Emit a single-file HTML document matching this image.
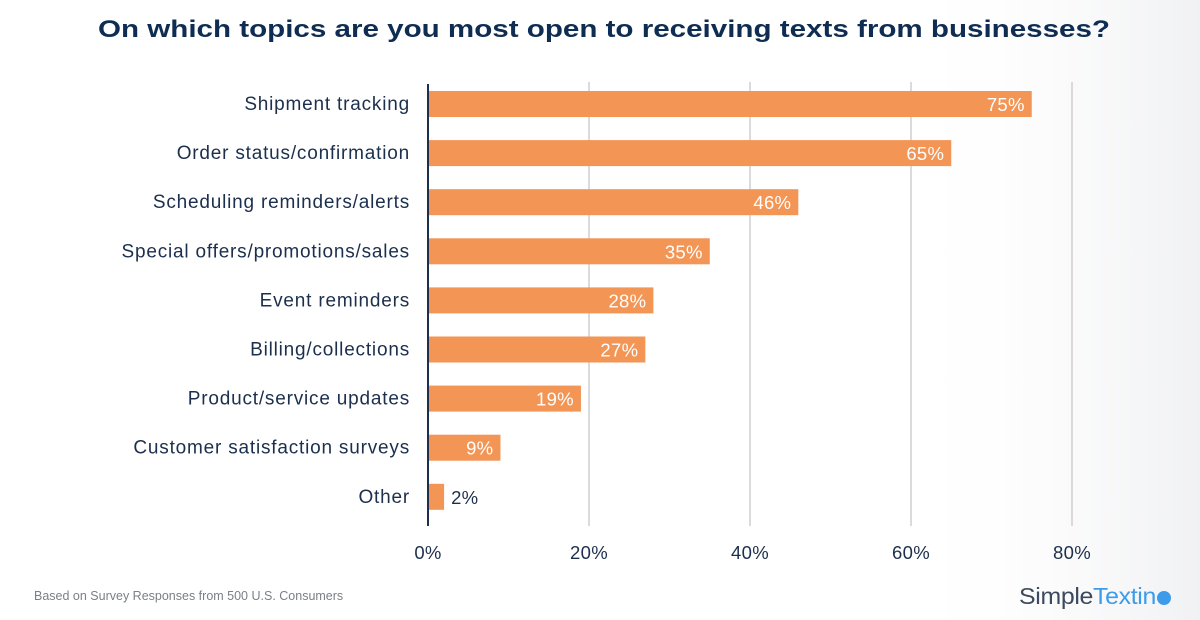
<!DOCTYPE html>
<html><head><meta charset="utf-8"><style>
html,body{margin:0;padding:0;width:1200px;height:620px;overflow:hidden;background:#fff;}
svg text{font-family:"Liberation Sans",sans-serif;}
</style></head><body>
<svg width="1200" height="620" viewBox="0 0 1200 620">
<defs><linearGradient id="rg" x1="0" x2="1"><stop offset="0" stop-color="#fff" stop-opacity="0"/><stop offset="1" stop-color="#eaebee"/></linearGradient></defs>
<rect x="900" y="0" width="300" height="620" fill="url(#rg)" opacity="0.7"/>
<text x="604" y="37" text-anchor="middle" font-size="24" font-weight="bold" fill="#0f2d52" textLength="1012" lengthAdjust="spacingAndGlyphs">On which topics are you most open to receiving texts from businesses?</text>
<g id="grid"></g><g id="bars"></g><g id="xt"></g>
<text x="34" y="600" font-size="12.5" fill="#7a7f88">Based on Survey Responses from 500 U.S. Consumers</text>
<g>
<text x="1019" y="604" font-size="23" fill="#3b4a5c" letter-spacing="-0.3" textLength="137" lengthAdjust="spacingAndGlyphs">Simple<tspan fill="#3d9be9">Textin</tspan></text>
<circle cx="1164" cy="598" r="7" fill="#3d9be9"/>
</g>
</svg>
<script>
const categories=["Shipment tracking","Order status/confirmation","Scheduling reminders/alerts","Special offers/promotions/sales","Event reminders","Billing/collections","Product/service updates","Customer satisfaction surveys","Other"];
const values=[75,65,46,35,28,27,19,9,2];
const ticks=[0,20,40,60,80];
const NS="http://www.w3.org/2000/svg";
const x0=428,pxPer=(1072-428)/80;
const xs=v=>x0+v*pxPer;
const ys=i=>104+i*49.1;
function mk(t,a,p){const e=document.createElementNS(NS,t);for(const k in a)e.setAttribute(k,a[k]);p.appendChild(e);return e;}
const grid=document.getElementById('grid'),bars=document.getElementById('bars'),xt=document.getElementById('xt');
ticks.forEach(t=>{
 if(t>0){const l=mk('line',{x1:xs(t),x2:xs(t),y1:82,y2:526,stroke:'#cfcfd2','stroke-width':1.5},grid);
 
 }
 const tx=mk('text',{x:xs(t),y:559,'text-anchor':'middle','font-size':18.5,fill:'#1c2f4d','letter-spacing':0.3},xt);tx.textContent=t+'%';
 
 
});
categories.forEach((c,i)=>{
 const y=ys(i),v=values[i];
 const r=mk('rect',{x:x0,y:y-13,width:xs(v)-x0,height:26,fill:'#f29555'},bars);
 
 
 const lb=mk('text',{x:410,y:y+6,'text-anchor':'end','font-size':19,fill:'#1c2f4d','letter-spacing':0.8},bars);lb.textContent=c;
 
 
 const inside=v>5;
 const vl=mk('text',{x:inside?xs(v)-7:xs(v)+7,y:y+7,'text-anchor':inside?'end':'start','font-size':18.5,fill:inside?'#fff':'#1c2f4d','letter-spacing':0.3},bars);vl.textContent=v+'%';
 
 
});
const ax=mk('line',{x1:x0,x2:x0,y1:84,y2:526,stroke:'#1c2f4d','stroke-width':2},bars);


</script>
</body></html>
